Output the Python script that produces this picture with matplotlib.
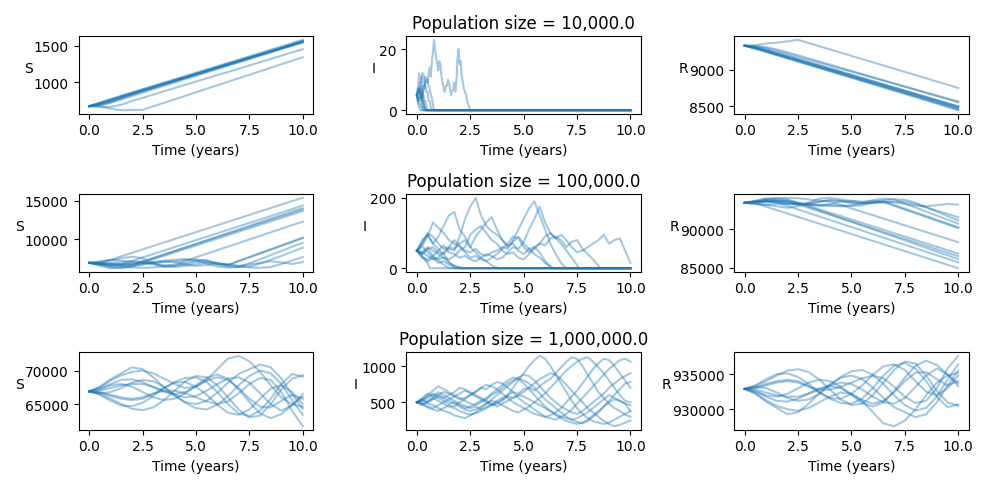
import numpy as np
import matplotlib
matplotlib.use('Agg')
import matplotlib.pyplot as plt

POP_SIZES = [10000.0, 100000.0, 1000000.0]

# ---- N = 10,000 -----------------------------------------------------------
# S and R on a half-year grid from 0 to 10
S_10K = [
    [670, 712, 758, 801, 846, 889, 934, 978, 1020, 1066, 1110, 1153, 1199, 1243, 1287, 1330, 1376, 1420, 1463, 1508, 1552],
    [670, 700, 740, 790, 838, 884, 928, 975, 1019, 1063, 1108, 1152, 1196, 1240, 1285, 1330, 1373, 1418, 1462, 1506, 1548],
    [670, 690, 725, 775, 825, 873, 920, 966, 1012, 1058, 1103, 1148, 1193, 1238, 1283, 1328, 1373, 1418, 1463, 1508, 1553],
    [670, 716, 762, 808, 852, 896, 940, 984, 1028, 1072, 1116, 1161, 1205, 1249, 1293, 1337, 1381, 1425, 1470, 1514, 1560],
    [670, 680, 715, 760, 808, 855, 902, 948, 994, 1040, 1086, 1131, 1177, 1222, 1268, 1313, 1359, 1404, 1450, 1495, 1540],
    [670, 705, 750, 797, 844, 890, 936, 981, 1026, 1071, 1116, 1161, 1206, 1251, 1296, 1341, 1386, 1431, 1476, 1521, 1566],
    [670, 718, 766, 812, 858, 903, 948, 993, 1038, 1083, 1128, 1173, 1218, 1263, 1308, 1353, 1398, 1443, 1488, 1533, 1578],
    [670, 695, 735, 782, 829, 874, 919, 964, 1009, 1054, 1099, 1144, 1189, 1234, 1279, 1324, 1369, 1414, 1459, 1504, 1549],
    [670, 665, 660, 690, 740, 784, 829, 873, 918, 962, 1006, 1051, 1095, 1139, 1184, 1228, 1273, 1317, 1361, 1406, 1450],
    [670, 665, 635, 615, 618, 620, 668, 716, 764, 812, 860, 908, 956, 1004, 1052, 1100, 1148, 1196, 1244, 1292, 1340],
]
R_10K = [
    [9330, 9300, 9260, 9215, 9170, 9126, 9082, 9038, 8994, 8950, 8906, 8862, 8818, 8774, 8730, 8686, 8642, 8598, 8554, 8510, 8466],
    [9330, 9310, 9280, 9240, 9196, 9152, 9108, 9064, 9020, 8976, 8932, 8888, 8844, 8800, 8756, 8712, 8668, 8624, 8580, 8536, 8492],
    [9330, 9325, 9310, 9280, 9240, 9198, 9155, 9112, 9069, 9026, 8983, 8940, 8897, 8854, 8811, 8768, 8725, 8682, 8639, 8596, 8553],
    [9330, 9290, 9248, 9204, 9160, 9116, 9072, 9028, 8984, 8940, 8896, 8852, 8808, 8764, 8720, 8676, 8632, 8588, 8544, 8500, 8450],
    [9330, 9295, 9252, 9208, 9165, 9121, 9078, 9034, 8991, 8947, 8904, 8860, 8817, 8773, 8730, 8686, 8643, 8599, 8556, 8512, 8470],
    [9330, 9305, 9268, 9226, 9183, 9140, 9097, 9054, 9011, 8968, 8925, 8882, 8839, 8796, 8753, 8710, 8667, 8624, 8581, 8538, 8495],
    [9330, 9288, 9244, 9199, 9155, 9110, 9066, 9021, 8977, 8932, 8888, 8843, 8799, 8754, 8710, 8665, 8621, 8576, 8532, 8487, 8443],
    [9330, 9320, 9295, 9258, 9218, 9177, 9136, 9095, 9054, 9013, 8972, 8931, 8890, 8849, 8808, 8767, 8726, 8685, 8644, 8603, 8562],
    [9330, 9300, 9262, 9220, 9178, 9135, 9092, 9049, 9006, 8963, 8920, 8877, 8834, 8791, 8748, 8705, 8662, 8619, 8576, 8533, 8490],
    [9330, 9335, 9360, 9370, 9390, 9410, 9366, 9322, 9278, 9234, 9190, 9146, 9102, 9058, 9014, 8970, 8926, 8882, 8838, 8794, 8748],
]
# I sampled every 0.05 years until extinction, then zero
I_10K_STEP = 0.05
I_10K = [
    [5, 4, 3, 5, 6, 4, 8, 7, 11, 9, 9, 12, 14, 11, 16, 19, 23, 20, 17, 15, 13, 16, 15, 11, 9,
     7, 6, 8, 8, 10, 9, 7, 5, 6, 7, 9, 6, 10, 17, 20, 15, 16, 11, 9, 7, 6, 5, 3, 2, 1],
    [5, 8, 12, 9, 11, 6, 3, 1],
    [5, 6, 7, 5, 4, 5, 6, 8, 9, 10, 10, 8, 7, 5, 4, 2],
    [5, 3, 2, 2, 1, 1],
    [5, 6, 6, 8, 8, 5, 5, 3, 3, 1],
    [5, 4, 4, 7, 5, 2, 2, 1],
    [5, 2, 1],
    [5, 6, 6, 9, 9, 12, 12, 8, 8, 6, 6, 3, 3, 1],
    [5, 7, 7, 5, 5, 3, 3, 1],
    [5, 3, 3, 4, 4],
]
I_10K_EXT = [2.5, 0.4, 0.8, 0.3, 0.5, 0.4, 0.15, 0.7, 0.4, 0.25]

# ---- N = 100,000 ----------------------------------------------------------
S_100K = [
    [6900, 6920, 7300, 7750, 8200, 8650, 9100, 9550, 10000, 10450, 10900, 11350, 11800, 12250, 12700, 13150, 13600, 14050, 14500, 14950, 15370],
    [6900, 6750, 6600, 6700, 7150, 7600, 8050, 8500, 8950, 9400, 9850, 10300, 10750, 11200, 11650, 12100, 12550, 13000, 13450, 13900, 14380],
    [6900, 6500, 6200, 6300, 6550, 7020, 7490, 7960, 8430, 8900, 9370, 9840, 10310, 10780, 11250, 11720, 12190, 12660, 13130, 13600, 14040],
    [6900, 6850, 6800, 6750, 6750, 7100, 7550, 8000, 8450, 8900, 9350, 9800, 10250, 10700, 11150, 11600, 12050, 12500, 12950, 13400, 13850],
    [6900, 6800, 6750, 6700, 6650, 6900, 7350, 7800, 8250, 8700, 9150, 9600, 10050, 10500, 10950, 11400, 11850, 12300, 12750, 13200, 13650],
    [6900, 6800, 6700, 6500, 6300, 6250, 6300, 6450, 6700, 7160, 7620, 8090, 8550, 9020, 9480, 9950, 10410, 10880, 11340, 11810, 12270],
    [6900, 7000, 7200, 7500, 7700, 7500, 6900, 6400, 6500, 6900, 7200, 7300, 6700, 6650, 7160, 7660, 8170, 8680, 9180, 9690, 10200],
    [6900, 6700, 6500, 6600, 6800, 6900, 6800, 6600, 6500, 6700, 7000, 7100, 6900, 6600, 7100, 7600, 8100, 8600, 9100, 9600, 10100],
    [6900, 6700, 6300, 6200, 6400, 6700, 7000, 7200, 7300, 7400, 7200, 6800, 6400, 6300, 6350, 6850, 7350, 7900, 8450, 9000, 9500],
    [6900, 7100, 7300, 7200, 7000, 6900, 6900, 7000, 7100, 7250, 7350, 7100, 6700, 6400, 6350, 6400, 6800, 7300, 7800, 8350, 8880],
    [6900, 6700, 6500, 6400, 6500, 6700, 6900, 7100, 7000, 6700, 6500, 6600, 6800, 6700, 6500, 6300, 6250, 6350, 6750, 7200, 7650],
    [6900, 6850, 6900, 7000, 7100, 7050, 6700, 6400, 6350, 6500, 6700, 6900, 6850, 6600, 6500, 6700, 6900, 7100, 6950, 6750, 7000],
]
R_100K = [
    [93450, 93400, 92950, 92510, 92060, 91610, 91170, 90720, 90270, 89830, 89380, 88930, 88490, 88040, 87590, 87140, 86700, 86250, 85800, 85360, 84910],
    [93450, 93600, 93700, 93500, 93040, 92580, 92120, 91660, 91200, 90740, 90280, 89820, 89360, 88900, 88440, 87980, 87520, 87060, 86600, 86140, 85680],
    [93450, 93700, 94000, 94100, 93900, 93410, 92930, 92440, 91950, 91460, 90980, 90490, 90000, 89510, 89030, 88540, 88050, 87560, 87080, 86590, 86100],
    [93450, 93500, 93600, 93650, 93700, 93250, 92800, 92350, 91900, 91440, 90990, 90540, 90090, 89640, 89190, 88740, 88290, 87840, 87380, 86930, 86480],
    [93450, 93550, 93700, 93750, 93800, 93500, 93050, 92610, 92160, 91720, 91270, 90830, 90380, 89940, 89490, 89050, 88600, 88160, 87710, 87270, 86820],
    [93450, 93600, 93800, 94000, 94100, 94050, 93900, 93750, 93600, 93160, 92720, 92280, 91840, 91400, 90950, 90510, 90070, 89630, 89190, 88750, 88310],
    [93450, 93350, 93200, 93000, 92800, 93000, 93500, 94000, 94100, 93900, 93700, 93600, 93700, 93650, 93160, 92680, 92190, 91710, 91220, 90740, 90250],
    [93450, 93600, 93750, 93600, 93400, 93300, 93400, 93600, 93800, 93700, 93400, 93300, 93500, 93550, 93060, 92570, 92090, 91600, 91110, 90630, 90150],
    [93450, 93700, 94000, 93900, 93600, 93400, 93200, 93100, 93050, 93000, 93100, 93400, 93800, 94000, 93900, 93370, 92840, 92310, 91780, 91250, 90720],
    [93450, 93300, 93200, 93300, 93350, 93300, 93250, 93200, 93150, 93100, 93050, 93100, 93500, 93800, 93900, 93850, 93460, 92880, 92300, 91720, 91150],
    [93450, 93600, 93800, 93700, 93500, 93300, 93200, 93100, 93300, 93600, 93700, 93500, 93400, 93500, 93600, 93600, 93300, 92850, 92420, 92000, 91560],
    [93450, 93500, 93600, 93500, 93300, 93200, 93300, 93600, 93800, 93700, 93500, 93400, 93500, 93600, 93500, 93300, 93100, 93000, 93150, 93300, 93200],
]
# I sampled every quarter year until extinction (None = still going at t=10)
I_100K_STEP = 0.25
I_100K = [
    [50, 35, 15],
    [50, 62, 45, 30, 22, 10],
    [50, 75, 95, 70, 55, 40, 18],
    [50, 40, 55, 35, 25, 30, 15, 8],
    [50, 30, 20, 28, 15, 20, 10, 5],
    [50, 80, 95, 70, 90, 120, 150, 160, 110, 90, 60, 45, 30, 20, 8],
    [50, 40, 55, 60, 45, 40, 55, 50, 90, 140, 175, 200, 150, 120, 105, 95, 80, 65, 70, 50, 40, 55, 60, 45, 20],
    [50, 45, 35, 25, 30, 45, 60, 55, 70, 80, 60, 90, 110, 130, 145, 110, 80, 60, 75, 90, 70, 55, 40, 30, 15],
    [50, 65, 90, 130, 115, 100, 80, 70, 60, 50, 45, 55, 40, 35, 45, 50, 60, 55, 80, 110, 140, 170, 190, 150, 110, 70, 40, 15],
    [50, 30, 25, 35, 50, 65, 45, 40, 30, 35, 25, 20, 30, 40, 35, 25, 30, 45, 60, 55, 75, 110, 140, 175, 130, 100, 85, 70, 50, 30],
    [50, 70, 100, 90, 70, 55, 60, 80, 65, 45, 30, 35, 25, 20, 30, 40, 55, 70, 90, 85, 60, 45, 60, 70, 65, 85, 90, 80, 60, 75, 80, 55, 40, 25],
    [50, 45, 60, 50, 40, 30, 25, 35, 50, 60, 95, 110, 120, 100, 80, 70, 50, 40, 45, 30, 25, 40, 55, 70, 90, 100, 85, 95, 80, 60,
     45, 50, 60, 70, 80, 95, 70, 80, 85, 50, 15],
]
I_100K_EXT = [0.6, 1.5, 1.8, 2.1, 2.2, 3.8, 6.3, 6.4, 7.0, 7.6, 8.6, None]

# ---- N = 1,000,000 --------------------------------------------------------
S_1M = [
    [66900, 67500, 68500, 69300, 69800, 70000, 69600, 68800, 68000, 67400, 67600, 68600, 70200, 71800, 72200, 71400, 69800, 67800, 66000, 65000, 64600],
    [66900, 66500, 65800, 65000, 64300, 64100, 64500, 65600, 67000, 68400, 69200, 69000, 67800, 66000, 64200, 63000, 63300, 65000, 67200, 68800, 69300],
    [66900, 67300, 68000, 68600, 68700, 68300, 67500, 66800, 66500, 66800, 67600, 68500, 69000, 68600, 67400, 65800, 64600, 64500, 65500, 66400, 65800],
    [66900, 66700, 66200, 65800, 65600, 65800, 66500, 67400, 68300, 68900, 69000, 68300, 66800, 65000, 63600, 63200, 64000, 65800, 68000, 69500, 69100],
    [66900, 67600, 68700, 69600, 70500, 70200, 69000, 67500, 66200, 65300, 65000, 65500, 66700, 68200, 69500, 70200, 70900, 70500, 68800, 66400, 64300],
    [66900, 66400, 65500, 64800, 64700, 65200, 66200, 67400, 68200, 68300, 67600, 66400, 64900, 63700, 63400, 64200, 65800, 67300, 67800, 66800, 65000],
    [66900, 67000, 67400, 67800, 68000, 68000, 67600, 67000, 66400, 66000, 66200, 67000, 68000, 68800, 69000, 68200, 66600, 65000, 64000, 64800, 66500],
    [66900, 67200, 67800, 68000, 67600, 66800, 66000, 65600, 65800, 66600, 67800, 68900, 69400, 68800, 67200, 65300, 63600, 62900, 63500, 64900, 66100],
    [66900, 66600, 66800, 67400, 68200, 68600, 68400, 67600, 66400, 65200, 64400, 64200, 64900, 66200, 67800, 69200, 70000, 69600, 68000, 65600, 63400],
    [66900, 66800, 66400, 66000, 65800, 66000, 66600, 67000, 67000, 66600, 66000, 65400, 65000, 65400, 66600, 68000, 68900, 68600, 66800, 64000, 61700],
]
R_1M = [
    [932900, 932300, 931300, 930500, 930000, 929800, 930200, 931000, 931800, 932400, 932200, 931200, 929600, 928000, 927600, 928400, 930000, 932000, 933800, 934800, 935200],
    [932900, 933300, 934000, 934800, 935500, 935700, 935300, 934200, 932800, 931400, 930600, 930800, 932000, 933800, 935600, 936800, 936500, 934800, 932600, 931000, 930500],
    [932900, 932500, 931800, 931200, 931100, 931500, 932300, 933000, 933300, 933000, 932200, 931300, 930800, 931200, 932400, 934000, 935200, 935300, 934300, 933400, 934000],
    [932900, 933100, 933600, 934000, 934200, 934000, 933300, 932400, 931500, 930900, 930800, 931500, 933000, 934800, 936200, 936600, 935800, 934000, 931800, 930300, 930700],
    [932900, 932200, 931100, 930200, 929300, 929600, 930800, 932300, 933600, 934500, 934800, 934300, 933100, 931600, 930300, 929600, 928900, 929300, 931000, 933400, 935500],
    [932900, 933400, 934300, 935000, 935100, 934600, 933600, 932400, 931600, 931500, 932200, 933400, 934900, 936100, 936400, 935600, 934000, 932500, 932000, 933000, 934800],
    [932900, 932800, 932400, 932000, 931800, 931800, 932200, 932800, 933400, 933800, 933600, 932800, 931800, 931000, 930800, 931600, 933200, 934800, 935800, 935000, 933300],
    [932900, 932600, 932000, 931800, 932200, 933000, 933800, 934200, 934000, 933200, 932000, 930900, 930400, 931000, 932600, 934500, 936200, 936900, 936300, 934900, 933700],
    [932900, 933200, 933000, 932400, 931600, 931200, 931400, 932200, 933400, 934600, 935400, 935600, 934900, 933600, 932000, 930600, 929800, 930200, 931800, 934200, 936400],
    [932900, 933000, 933400, 933800, 934000, 933800, 933200, 932800, 932800, 933200, 933800, 934400, 934800, 934400, 933200, 931800, 930900, 931200, 933000, 935800, 937600],
]
# I on a quarter-year grid from 0 to 10
I_1M = [
    [500, 560, 620, 580, 640, 600, 560, 520, 480, 450, 420, 440, 400, 430, 470, 520, 560, 600, 640, 620, 680,
     700, 660, 720, 780, 820, 900, 980, 1060, 1120, 1100, 1000, 880, 760, 640, 560, 480, 420, 380, 330, 300],
    [500, 470, 430, 400, 380, 420, 460, 440, 500, 540, 600, 640, 700, 680, 740, 780, 760, 700, 640, 560, 500,
     460, 400, 350, 300, 280, 260, 300, 340, 400, 480, 560, 640, 720, 800, 880, 960, 1020, 1080, 1100, 1060],
    [500, 540, 600, 660, 720, 680, 640, 600, 560, 520, 480, 460, 500, 540, 600, 640, 700, 760, 800, 840, 880,
     860, 800, 720, 640, 560, 500, 440, 400, 360, 340, 380, 440, 500, 560, 620, 700, 760, 820, 860, 900],
    [500, 520, 480, 460, 420, 380, 360, 320, 300, 280, 320, 360, 420, 480, 540, 600, 660, 720, 780, 830, 800,
     760, 700, 620, 540, 480, 420, 360, 300, 260, 230, 210, 240, 300, 360, 440, 520, 600, 680, 760, 780],
    [500, 460, 500, 540, 580, 560, 600, 640, 700, 680, 620, 580, 540, 500, 460, 480, 520, 600, 700, 800, 900,
     1000, 1080, 1140, 1100, 1000, 880, 760, 640, 520, 420, 340, 280, 240, 220, 200, 220, 260, 300, 340, 380],
    [500, 540, 500, 560, 520, 480, 440, 420, 380, 350, 330, 350, 380, 420, 460, 500, 540, 580, 560, 600, 640,
     700, 760, 820, 860, 900, 880, 820, 740, 660, 580, 500, 420, 360, 300, 240, 200, 170, 190, 220, 250],
    [500, 480, 520, 560, 600, 640, 620, 580, 540, 560, 600, 650, 700, 740, 720, 680, 620, 560, 500, 460, 420,
     380, 340, 320, 300, 320, 360, 420, 500, 580, 660, 760, 860, 960, 1040, 1100, 1080, 1000, 900, 800, 700],
    [500, 520, 560, 600, 560, 520, 480, 500, 460, 420, 440, 480, 520, 560, 620, 680, 740, 800, 840, 820, 760,
     680, 600, 520, 440, 380, 320, 280, 240, 220, 200, 220, 260, 320, 380, 440, 500, 540, 520, 480, 460],
    [500, 540, 580, 620, 600, 560, 520, 480, 440, 400, 380, 400, 440, 480, 520, 500, 460, 420, 380, 360, 400,
     440, 500, 560, 620, 700, 780, 860, 940, 1000, 1060, 1100, 1120, 1060, 980, 900, 800, 700, 600, 520, 500],
    [500, 480, 440, 420, 460, 500, 540, 580, 620, 660, 640, 600, 560, 520, 480, 440, 480, 520, 560, 600, 580,
     540, 500, 460, 420, 380, 340, 300, 280, 260, 280, 320, 360, 420, 480, 540, 600, 560, 520, 480, 380],
]

T_END = 10.0
LINE_KW = dict(color='C0', alpha=0.4)


def _plot_grid(ax, series):
    # series sampled evenly from 0 to T_END
    for vals in series:
        ax.plot(np.linspace(0, T_END, len(vals)), vals, **LINE_KW)


def _plot_extinct(ax, series, ext_times, step):
    # infected counts until they hit zero, then flat at zero to T_END
    for vals, ext in zip(series, ext_times):
        t = list(np.arange(len(vals)) * step)
        y = list(vals)
        if ext is not None:
            t += [ext, T_END]
            y += [0, 0]
        ax.plot(t, y, **LINE_KW)


fig, axes = plt.subplots(3, 3, figsize=(9.89, 4.89))

_plot_grid(axes[0, 0], S_10K)
_plot_extinct(axes[0, 1], I_10K, I_10K_EXT, I_10K_STEP)
_plot_grid(axes[0, 2], R_10K)

_plot_grid(axes[1, 0], S_100K)
_plot_extinct(axes[1, 1], I_100K, I_100K_EXT, I_100K_STEP)
_plot_grid(axes[1, 2], R_100K)

_plot_grid(axes[2, 0], S_1M)
_plot_grid(axes[2, 1], I_1M)
_plot_grid(axes[2, 2], R_1M)

for row, n in enumerate(POP_SIZES):
    axes[row, 1].set_title(f'Population size = {n:,}')
    for col, name in enumerate(['S', 'I', 'R']):
        ax = axes[row, col]
        ax.set_xlabel('Time (years)')
        ax.set_ylabel(name, rotation=0)

fig.tight_layout()
fig.savefig('out.png', dpi=100)
plt.close(fig)
